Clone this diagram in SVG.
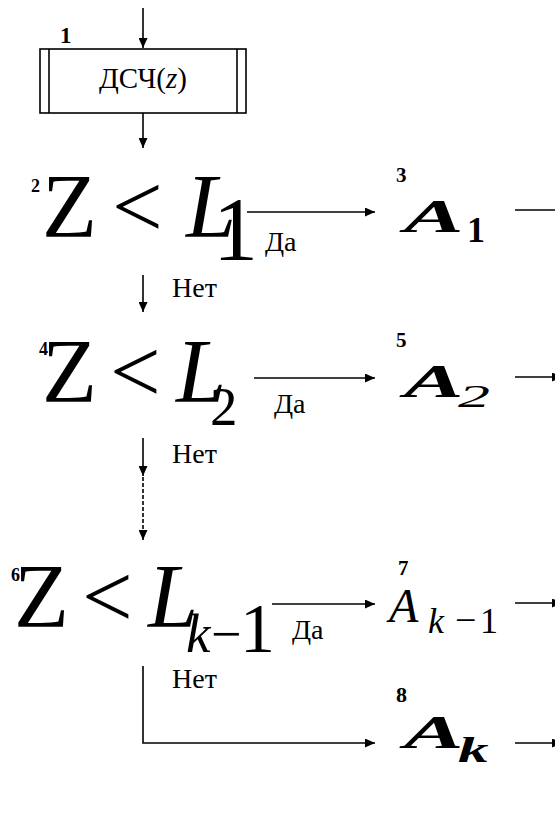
<svg xmlns="http://www.w3.org/2000/svg" width="555" height="818" viewBox="0 0 555 818">
<style>
.t{font-family:"Liberation Serif","Times New Roman",serif;fill:#000}
.big{font-size:90px}
.it{font-style:italic}
.b{font-weight:bold}
.num{font-weight:bold;font-size:21px}
.sn{font-weight:bold;font-size:18px}
.lbl{font-size:28px}
.scr{font-weight:bold;font-style:italic;font-size:47px}
.c{stroke:#000;stroke-width:1.6;fill:none}
.d{stroke-dasharray:4 2}
</style>
<defs>
<marker id="ah" markerUnits="userSpaceOnUse" markerWidth="11" markerHeight="9" refX="10" refY="4.5" orient="auto" viewBox="0 0 11 9"><path d="M0,0 L10,4.5 L0,9 z" fill="#000"/></marker>
</defs>
<rect width="555" height="818" fill="#fff"/>
<g id="connectors">
<path class="c" d="M143,8 V48" marker-end="url(#ah)"/>
<path class="c" d="M143,113 V148" marker-end="url(#ah)"/>
<path class="c" d="M247,212 H375" marker-end="url(#ah)"/>
<path class="c" d="M143,275 V312" marker-end="url(#ah)"/>
<path class="c" d="M254,378 H375" marker-end="url(#ah)"/>
<path class="c" d="M143,438 V476" marker-end="url(#ah)"/>
<path class="c d" d="M143,477 V540" marker-end="url(#ah)"/>
<path class="c" d="M272,604 H375" marker-end="url(#ah)"/>
<path class="c" d="M143,666 V743 H375" marker-end="url(#ah)"/>
<path class="c" d="M515,210 H555"/>
<path class="c" d="M515,377 H562" marker-end="url(#ah)"/>
<path class="c" d="M515,603 H562" marker-end="url(#ah)"/>
<path class="c" d="M515,743 H562" marker-end="url(#ah)"/>
<text class="t lbl" x="265" y="251">Да</text>
<text class="t lbl" x="274" y="413">Да</text>
<text class="t lbl" x="292" y="639">Да</text>
<text class="t lbl" x="172" y="297">Нет</text>
<text class="t lbl" x="172" y="463">Нет</text>
<text class="t lbl" x="172" y="688">Нет</text>
</g>
<g id="n1">
<rect x="40" y="49" width="206" height="64" fill="#fff" stroke="#000" stroke-width="1.6"/>
<line x1="49" y1="49" x2="49" y2="113" stroke="#000" stroke-width="1.6"/>
<line x1="237" y1="49" x2="237" y2="113" stroke="#000" stroke-width="1.6"/>
<text class="t b" x="60" y="43" font-size="23">1</text>
<text class="t" x="143" y="88" font-size="29" text-anchor="middle">ДСЧ(<tspan class="it">z</tspan>)</text>
</g>
<g id="n2">
<text class="t"><tspan class="sn" x="31" y="192">2</tspan><tspan class="big" x="42" y="237">Z</tspan><tspan class="big" x="112" y="237">&lt;</tspan><tspan class="big it" x="186" y="237">L</tspan><tspan class="big" x="213" y="260">1</tspan></text>
</g>
<g id="n3">
<text class="t num" x="396" y="182">3</text>
<text class="t scr" transform="translate(404,232) scale(1.9,1)">A</text>
<text class="t b" x="467" y="242" font-size="36">1</text>
</g>
<g id="n4">
<text class="t"><tspan class="sn" x="39" y="355">4</tspan><tspan class="big" x="42" y="402">Z</tspan><tspan class="big" x="110" y="402">&lt;</tspan><tspan class="big it" x="176" y="402">L</tspan><tspan x="210" y="425" font-size="55">2</tspan></text>
</g>
<g id="n5">
<text class="t num" x="396" y="347">5</text>
<text class="t scr" transform="translate(404,397) scale(1.9,1)">A</text>
<text class="t it" transform="translate(458,407) scale(2,1)" font-size="32">2</text>
</g>
<g id="n6">
<text class="t"><tspan class="sn" x="11" y="581">6</tspan><tspan class="big" x="14" y="627">Z</tspan><tspan class="big" x="82" y="627">&lt;</tspan><tspan class="big it" x="148" y="627">L</tspan><tspan class="it" x="186" y="652" font-size="55">k</tspan><tspan x="211" y="652" font-size="54">−</tspan><tspan x="240" y="652" font-size="70">1</tspan></text>
</g>
<g id="n7">
<text class="t num" x="398" y="575">7</text>
<text class="t"><tspan class="it" x="389" y="622" font-size="48">A</tspan><tspan class="it" x="428" y="633" font-size="36">k</tspan><tspan x="455" y="633" font-size="38">−</tspan><tspan x="480" y="633" font-size="36">1</tspan></text>
</g>
<g id="n8">
<text class="t b" x="396" y="702" font-size="22">8</text>
<text class="t scr" transform="translate(404,748) scale(1.9,1)">A</text>
<text class="t b it" transform="translate(458,762) scale(1.7,1)" font-size="36">k</text>
</g>
</svg>
